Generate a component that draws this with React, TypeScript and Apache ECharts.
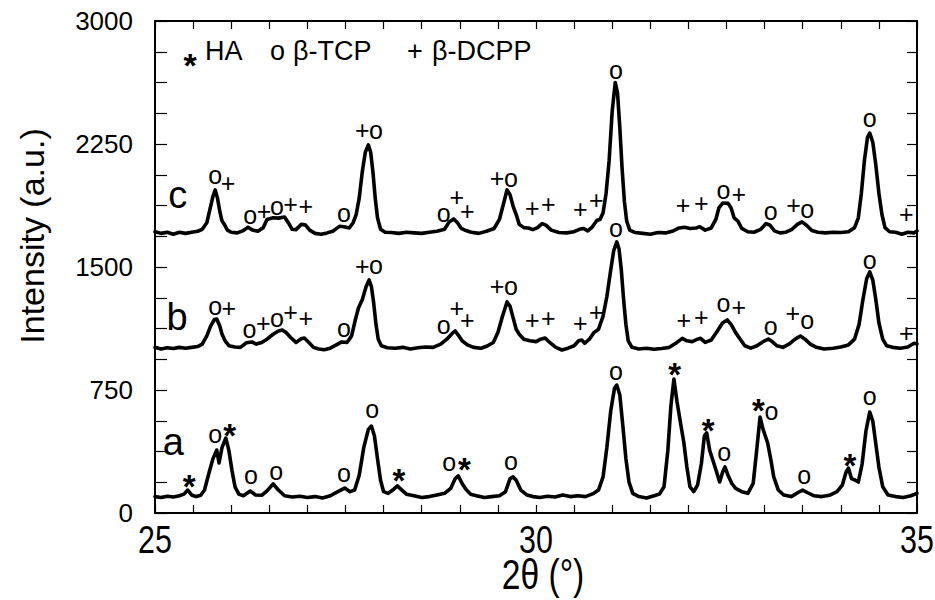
import React, { useEffect, useRef } from 'react';
import * as echarts from 'echarts';

// ---- data (2θ in degrees, intensity in a.u.) ----
const traceC: [number, number][] = [
  [25.0,1715],[25.08,1705],[25.16,1712],[25.24,1700],[25.32,1712],[25.4,1705],[25.48,1712],[25.56,1718],
  [25.62,1730],[25.68,1770],[25.72,1850],[25.76,1930],[25.79,1970],[25.82,1920],[25.85,1840],[25.88,1780],
  [25.91,1760],[25.95,1725],[26.0,1712],[26.08,1708],[26.15,1720],[26.22,1742],[26.28,1725],[26.35,1718],
  [26.42,1740],[26.47,1790],[26.55,1800],[26.62,1798],[26.7,1805],[26.75,1770],[26.8,1730],[26.85,1728],
  [26.92,1760],[26.97,1758],[27.03,1725],[27.1,1705],[27.18,1700],[27.26,1708],[27.34,1720],[27.42,1748],
  [27.48,1745],[27.55,1738],[27.6,1770],[27.64,1820],[27.68,1920],[27.72,2080],[27.76,2200],[27.8,2245],
  [27.83,2200],[27.86,2080],[27.89,1920],[27.92,1800],[27.96,1730],[28.02,1712],[28.1,1710],[28.2,1705],
  [28.3,1712],[28.4,1708],[28.5,1705],[28.6,1712],[28.7,1718],[28.8,1730],[28.86,1775],[28.92,1793],
  [28.97,1770],[29.02,1735],[29.08,1722],[29.15,1712],[29.25,1705],[29.35,1718],[29.45,1735],[29.52,1790],
  [29.57,1880],[29.62,1970],[29.66,1940],[29.7,1870],[29.74,1820],[29.78,1760],[29.84,1740],[29.9,1738],
  [29.96,1728],[30.02,1740],[30.08,1765],[30.13,1755],[30.2,1725],[30.3,1710],[30.4,1708],[30.5,1715],
  [30.57,1730],[30.62,1735],[30.68,1720],[30.74,1745],[30.8,1785],[30.84,1790],[30.88,1830],[30.92,1950],
  [30.96,2150],[31.0,2450],[31.04,2625],[31.07,2560],[31.1,2350],[31.13,2100],[31.16,1900],[31.19,1780],
  [31.23,1725],[31.3,1710],[31.4,1705],[31.5,1700],[31.6,1710],[31.7,1708],[31.8,1720],[31.88,1738],
  [31.95,1742],[32.02,1735],[32.1,1738],[32.15,1745],[32.22,1725],[32.3,1738],[32.36,1790],[32.4,1860],
  [32.45,1890],[32.52,1888],[32.56,1860],[32.6,1800],[32.65,1780],[32.7,1735],[32.78,1715],[32.86,1712],
  [32.95,1730],[33.02,1765],[33.07,1755],[33.13,1720],[33.2,1708],[33.28,1712],[33.36,1730],[33.43,1760],
  [33.49,1775],[33.55,1755],[33.62,1722],[33.7,1712],[33.8,1708],[33.9,1712],[34.0,1710],[34.1,1715],
  [34.18,1740],[34.23,1800],[34.27,1950],[34.31,2150],[34.35,2290],[34.38,2317],[34.42,2260],[34.46,2120],
  [34.5,1950],[34.54,1820],[34.58,1740],[34.64,1715],[34.72,1712],[34.8,1700],[34.88,1712],[34.96,1708],[35.0,1720]
];

const traceB: [number, number][] = [
  [25.0,1010],[25.08,1000],[25.16,1008],[25.24,1003],[25.32,1010],[25.4,1005],[25.48,1010],[25.56,1015],
  [25.62,1030],[25.68,1080],[25.73,1140],[25.78,1180],[25.81,1183],[25.85,1140],[25.88,1090],[25.92,1050],
  [25.97,1020],[26.05,1012],[26.12,1010],[26.2,1038],[26.27,1043],[26.33,1030],[26.4,1040],[26.47,1060],
  [26.55,1090],[26.62,1110],[26.67,1116],[26.72,1100],[26.78,1070],[26.85,1040],[26.92,1062],[26.96,1067],
  [27.02,1040],[27.08,1010],[27.15,1000],[27.22,995],[27.3,1005],[27.38,1025],[27.45,1043],[27.52,1040],
  [27.58,1080],[27.63,1180],[27.67,1250],[27.72,1300],[27.77,1380],[27.81,1421],[27.84,1380],[27.87,1280],
  [27.9,1150],[27.93,1060],[27.97,1020],[28.05,1008],[28.15,1005],[28.25,1010],[28.35,1000],[28.45,1008],
  [28.55,1012],[28.65,1010],[28.75,1030],[28.83,1060],[28.9,1095],[28.94,1110],[28.98,1085],[29.03,1050],
  [29.1,1025],[29.18,1010],[29.28,1005],[29.36,1018],[29.44,1040],[29.5,1100],[29.56,1200],[29.62,1287],
  [29.66,1260],[29.7,1190],[29.74,1120],[29.78,1090],[29.84,1060],[29.92,1050],[30.0,1045],[30.06,1060],
  [30.12,1067],[30.18,1040],[30.26,1010],[30.34,994],[30.42,1005],[30.5,1020],[30.56,1050],[30.6,1055],
  [30.64,1035],[30.7,1060],[30.76,1100],[30.82,1120],[30.88,1200],[30.93,1320],[30.98,1480],[31.02,1600],
  [31.06,1653],[31.09,1610],[31.12,1480],[31.15,1300],[31.18,1150],[31.21,1050],[31.26,1010],[31.35,1000],
  [31.45,1005],[31.55,998],[31.65,1003],[31.75,1010],[31.85,1040],[31.92,1065],[31.98,1050],[32.05,1045],
  [32.12,1060],[32.16,1065],[32.22,1040],[32.3,1055],[32.38,1110],[32.45,1160],[32.51,1177],[32.56,1150],
  [32.62,1100],[32.68,1060],[32.74,1020],[32.82,1005],[32.9,1020],[32.98,1045],[33.05,1061],[33.1,1045],
  [33.16,1020],[33.24,1010],[33.32,1030],[33.4,1060],[33.47,1079],[33.53,1060],[33.6,1030],[33.68,1010],
  [33.78,1000],[33.9,1005],[34.0,1012],[34.1,1025],[34.18,1060],[34.24,1150],[34.29,1300],[34.34,1430],
  [34.38,1470],[34.42,1420],[34.46,1300],[34.5,1160],[34.55,1060],[34.6,1020],[34.68,1010],[34.78,1005],
  [34.88,1012],[34.96,1035],[35.0,1030]
];

const traceA: [number, number][] = [
  [25.0,100],[25.08,95],[25.16,102],[25.24,98],[25.32,105],[25.38,115],[25.43,140],[25.48,110],[25.54,100],
  [25.6,108],[25.65,140],[25.7,230],[25.76,330],[25.81,384],[25.84,305],[25.88,400],[25.93,457],[25.97,380],
  [26.01,260],[26.05,160],[26.1,115],[26.16,105],[26.25,134],[26.32,110],[26.4,108],[26.47,135],[26.55,177],
  [26.62,140],[26.7,105],[26.8,98],[26.9,102],[27.0,95],[27.1,100],[27.2,92],[27.3,105],[27.4,130],[27.49,152],
  [27.56,130],[27.62,140],[27.68,230],[27.74,400],[27.8,510],[27.84,530],[27.88,470],[27.92,330],[27.96,200],
  [28.0,130],[28.06,120],[28.12,140],[28.18,165],[28.24,140],[28.3,115],[28.4,105],[28.5,95],[28.6,100],
  [28.7,110],[28.8,120],[28.88,150],[28.94,210],[28.98,226],[29.03,180],[29.08,145],[29.14,115],[29.22,105],
  [29.32,95],[29.42,100],[29.52,105],[29.6,130],[29.66,210],[29.7,220],[29.74,200],[29.8,140],[29.88,110],
  [29.96,100],[30.05,95],[30.15,102],[30.25,98],[30.35,110],[30.45,100],[30.55,105],[30.65,100],[30.75,118],
  [30.82,140],[30.88,220],[30.93,400],[30.98,620],[31.03,760],[31.06,780],[31.1,720],[31.14,530],[31.18,330],
  [31.22,190],[31.27,120],[31.35,100],[31.45,92],[31.55,105],[31.62,115],[31.68,160],[31.73,380],[31.77,650],
  [31.81,817],[31.85,680],[31.9,540],[31.94,430],[31.98,280],[32.02,160],[32.07,130],[32.12,170],[32.17,300],
  [32.21,470],[32.24,488],[32.28,380],[32.32,323],[32.37,250],[32.41,189],[32.45,250],[32.48,281],[32.52,230],
  [32.57,180],[32.62,150],[32.7,130],[32.78,120],[32.85,180],[32.9,400],[32.94,585],[32.98,510],[33.04,427],
  [33.08,330],[33.12,220],[33.18,140],[33.25,110],[33.35,100],[33.45,128],[33.5,140],[33.56,125],[33.65,105],
  [33.75,100],[33.85,108],[33.95,130],[34.02,170],[34.07,250],[34.1,274],[34.14,210],[34.19,200],[34.23,189],
  [34.28,300],[34.33,500],[34.38,616],[34.42,560],[34.46,420],[34.5,280],[34.55,160],[34.62,110],[34.72,100],
  [34.82,95],[34.92,105],[35.0,120]
];

// phase marks: o = β-TCP, + = β-DCPP  [2θ, intensity, symbol]
const phaseMarks: [number, number, string][] = [
  // c
  [25.79,2049,'o'],[25.96,2000,'+'],[26.25,1805,'o'],[26.43,1829,'+'],[26.6,1860,'o'],[26.78,1872,'+'],
  [26.98,1860,'+'],[27.48,1817,'o'],[27.72,2323,'+'],[27.9,2323,'o'],[28.79,1817,'o'],[28.96,1915,'+'],
  [29.1,1829,'+'],[29.49,2031,'+'],[29.67,2031,'o'],[29.95,1848,'+'],[30.16,1872,'+'],[30.58,1841,'+'],
  [30.79,1897,'+'],[31.05,2689,'o'],[31.93,1866,'+'],[32.17,1878,'+'],[32.46,1957,'o'],[32.66,1933,'+'],
  [33.08,1829,'o'],[33.38,1866,'+'],[33.56,1841,'o'],[34.38,2397,'o'],[34.86,1811,'+'],
  // b
  [25.79,1250,'o'],[25.97,1238,'+'],[26.24,1110,'o'],[26.42,1146,'+'],[26.6,1177,'o'],[26.78,1213,'+'],
  [26.98,1177,'+'],[27.48,1116,'o'],[27.72,1494,'+'],[27.9,1500,'o'],[28.79,1134,'o'],[28.96,1238,'+'],
  [29.1,1165,'+'],[29.49,1372,'+'],[29.67,1372,'o'],[29.95,1165,'+'],[30.16,1177,'+'],[30.58,1146,'+'],
  [30.79,1213,'+'],[31.05,1726,'o'],[31.94,1165,'+'],[32.17,1183,'+'],[32.46,1268,'o'],[32.66,1244,'+'],
  [33.08,1128,'o'],[33.37,1207,'+'],[33.56,1165,'o'],[34.38,1531,'o'],[34.86,1085,'+'],
  // a
  [25.79,470,'o'],[26.26,220,'o'],[26.59,244,'o'],[27.48,232,'o'],[27.85,622,'o'],[28.86,299,'o'],
  [29.67,305,'o'],[31.05,854,'o'],[32.47,360,'o'],[33.09,610,'o'],[33.52,220,'o'],[34.38,701,'o']
];

// HA marks (*)
const haMarks: [number, number, string][] = [
  [25.45,213,'*'],[25.98,524,'*'],[28.2,244,'*'],[29.06,311,'*'],[31.82,896,'*'],[32.26,549,'*'],
  [32.92,671,'*'],[34.12,341,'*']
];

const traceLetters: [number, number, string][] = [
  [25.3,1920,'c'],[25.29,1177,'b'],[25.24,415,'a']
];

const xTickLabels = [25, 30, 35];
const xAxisTitle = '2θ (°)';
const yAxisTitle = 'Intensity (a.u.)';

const FONT = "'Liberation Sans', Arial, Helvetica, sans-serif";

export default function App() {
  const ref = useRef<HTMLDivElement>(null);
  useEffect(() => {
    if (!ref.current) return;
    const chart = echarts.init(ref.current, undefined, { renderer: 'svg' });
    const axisLine = { show: true, onZero: false, lineStyle: { color: '#000', width: 2 } };
    const tick = { show: true, inside: true, length: 8, lineStyle: { color: '#000', width: 1.2 } };
    const toItems = (arr: [number, number, string][]) => arr.map(d => ({ value: [d[0], d[1]], name: d[2] }));
    const lineSeries = (data: [number, number][]) => ({
      type: 'line', data, showSymbol: false, symbol: 'none', smooth: false,
      lineStyle: { color: '#000', width: 3.6, join: 'round', cap: 'round' }, silent: true, z: 3
    });
    const labelSeries = (data: any[], fontSize: number, offset: number[], fontWeight = 'normal') => ({
      type: 'scatter', data, symbolSize: 1, silent: true, z: 5,
      itemStyle: { color: 'transparent', opacity: 1 },
      label: {
        show: true, position: 'inside', formatter: '{b}', fontSize, fontFamily: FONT, fontWeight,
        color: '#000', opacity: 1, textBorderWidth: 0, textBorderColor: 'transparent',
        lineHeight: Math.round(fontSize * 0.6), offset
      }
    });
    chart.setOption({
      animation: false,
      backgroundColor: '#ffffff',
      grid: { left: 155, right: 18, top: 21, bottom: 87, containLabel: false, outerBoundsMode: 'none' },
      xAxis: [
        {
          type: 'value', min: 25, max: 35, interval: 5, position: 'bottom',
          axisLine, axisTick: tick,
          minorTick: { show: true, splitNumber: 10, length: 8, lineStyle: { color: '#000', width: 1.2 } },
          splitLine: { show: false }, minorSplitLine: { show: false },
          axisLabel: { show: false }
        },
        {
          type: 'value', min: 25, max: 35, interval: 5, position: 'top',
          axisLine, axisTick: tick,
          minorTick: { show: true, splitNumber: 10, length: 8, lineStyle: { color: '#000', width: 1.2 } },
          splitLine: { show: false }, axisLabel: { show: false }
        }
      ],
      yAxis: [
        {
          type: 'value', min: 0, max: 3000, interval: 750, position: 'left',
          axisLine, axisTick: { ...tick, length: 12 },
          minorTick: { show: true, splitNumber: 4, length: 12, lineStyle: { color: '#000', width: 1.2 } },
          splitLine: { show: false }, minorSplitLine: { show: false },
          axisLabel: { fontSize: 26, fontFamily: FONT, color: '#000', margin: 22, formatter: (v: number) => String(v) }
        },
        {
          type: 'value', min: 0, max: 3000, interval: 750, position: 'right',
          axisLine, axisTick: { ...tick, length: 10 },
          minorTick: { show: true, splitNumber: 4, length: 10, lineStyle: { color: '#000', width: 1.2 } },
          splitLine: { show: false }, axisLabel: { show: false }
        }
      ],
      series: [
        lineSeries(traceC),
        lineSeries(traceB),
        lineSeries(traceA),
        labelSeries(toItems(phaseMarks), 25, [0, -2]),
        labelSeries(toItems(haMarks), 33, [0, 8], 'bold'),
        labelSeries(toItems(traceLetters), 38, [0, -3])
      ]
    });

    // condensed x tick labels and title, placed through the axis scale
    const px = (x: number, y: number) => chart.convertToPixel({ xAxisIndex: 0, yAxisIndex: 0 }, [x, y]) as number[];
    const base = px(25, 0);
    const mid = px(30, 0);
    const xLabelEls = xTickLabels.map(v => {
      const p = px(v, 0);
      return {
        type: 'text', x: p[0], y: base[1] + 8, scaleX: 0.8, silent: true,
        style: { text: String(v), fontSize: 38, fontFamily: FONT, fill: '#000', align: 'center', verticalAlign: 'top' }
      };
    });
    const txt = (x: number, y: number, text: string, fontSize: number, align: string, va: string, extra: any = {}) => ({
      type: 'text', x, y, silent: true, ...extra,
      style: { text, fontSize, fontFamily: FONT, fill: '#000', align, verticalAlign: va, fontWeight: extra.fontWeight || 'normal' }
    });
    chart.setOption({
      graphic: [
        ...xLabelEls,
        { type: 'text', x: mid[0] + 7, y: base[1] + 62, scaleX: 0.8, silent: true,
          style: { text: xAxisTitle, fontSize: 42, fontFamily: FONT, fill: '#000', align: 'center', verticalAlign: 'middle' } },
        txt(32, 236, yAxisTitle, 34, 'center', 'middle', { rotation: Math.PI / 2 }),
        txt(190, 65, '*', 34, 'center', 'middle', { fontWeight: 'bold' }),
        txt(205, 64, 'HA', 27, 'left', 'bottom'),
        txt(270, 64, 'o', 27, 'left', 'bottom'),
        txt(293, 64, 'β-TCP', 27, 'left', 'bottom'),
        txt(407, 64, '+', 27, 'left', 'bottom'),
        txt(432, 64, 'β-DCPP', 27, 'left', 'bottom')
      ]
    });
    return () => chart.dispose();
  }, []);
  return <div ref={ref} style={{ position: 'fixed', left: 0, top: 0, width: 935, height: 600, background: '#fff' }} />;
}
